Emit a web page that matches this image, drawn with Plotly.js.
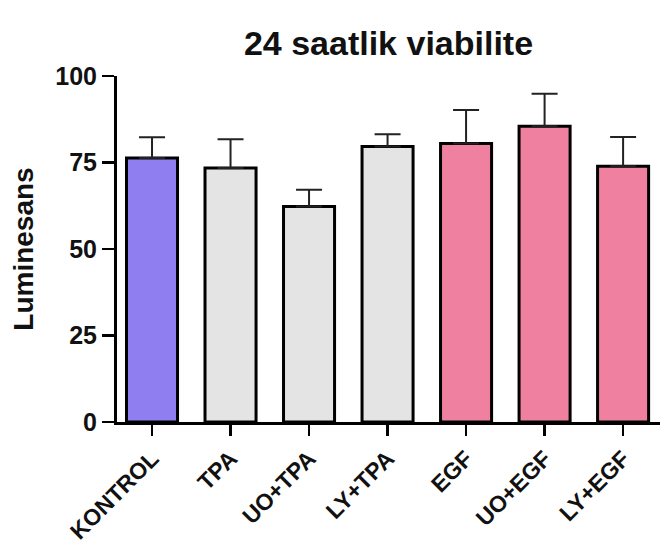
<!DOCTYPE html>
<html>
<head>
<meta charset="utf-8">
<script src="https://cdn.plot.ly/plotly-3.0.1.min.js"></script>
<style>html,body{margin:0;padding:0;background:#fff;}#chart{width:660px;height:553px;}</style>
</head>
<body>
<div id="chart"></div>
<script>
const categories = ["KONTROL", "TPA", "UO+TPA", "LY+TPA", "EGF", "UO+EGF", "LY+EGF"];
const means = [76.3, 73.4, 62.3, 79.6, 80.5, 85.5, 73.9];
const errUpper = [6.0, 8.3, 4.8, 3.6, 9.7, 9.4, 8.5];
const barColors = ["#8f7eef", "#e4e4e4", "#e4e4e4", "#e4e4e4", "#ef80a0", "#ef80a0", "#ef80a0"];
const yTicks = [0, 25, 50, 75, 100];

const font = {family: "Liberation Sans, Arial, sans-serif", color: "#111", weight: "bold"};

const trace = {
  type: "bar",
  x: categories,
  y: means,
  marker: {color: barColors, line: {color: "#000", width: 3}},
  error_y: {type: "data", symmetric: false, array: errUpper, arrayminus: means.map(() => 0),
            color: "#222", thickness: 2, width: 13},
  hoverinfo: "none"
};

const layout = {
  width: 660, height: 553,
  margin: {l: 117, r: 0, t: 76, b: 131},
  paper_bgcolor: "#fff", plot_bgcolor: "#fff",
  showlegend: false,
  bargap: 0.35,
  title: {text: "24 saatlik viabilite", font: Object.assign({}, font, {size: 34}),
          x: 0.5, xref: "paper", xanchor: "center", y: 1 - 43/553, yref: "container", yanchor: "middle"},
  xaxis: {
    type: "category", range: [-0.446, 6.47], automargin: false,
    showline: true, linecolor: "#000", linewidth: 3,
    ticks: "outside", ticklen: 11, tickwidth: 2.5, tickcolor: "#000",
    tickangle: -45, tickfont: Object.assign({}, font, {size: 23}),
    showgrid: false, zeroline: false
  },
  yaxis: {
    range: [0, 100], tickvals: yTicks, automargin: false,
    showline: true, linecolor: "#000", linewidth: 3,
    ticks: "outside", ticklen: 12, tickwidth: 2.5, tickcolor: "#000",
    tickfont: Object.assign({}, font, {size: 25}),
    title: {text: "Luminesans", font: Object.assign({}, font, {size: 28}), standoff: 14},
    showgrid: false, zeroline: false
  }
};

Plotly.newPlot("chart", [trace], layout, {displayModeBar: false, staticPlot: true});
</script>
</body>
</html>
